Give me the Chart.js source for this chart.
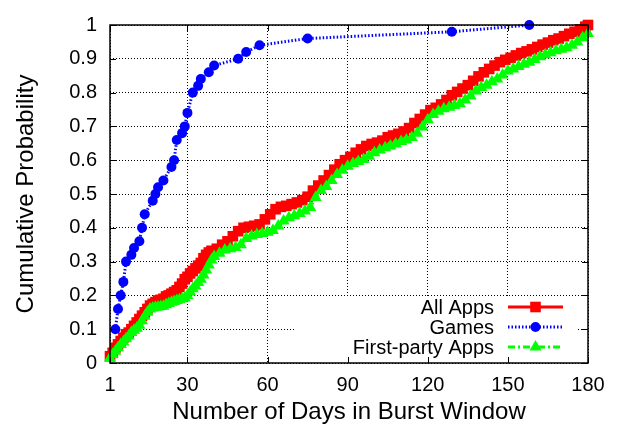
<!DOCTYPE html>
<html lang="en">
<head>
<meta charset="UTF-8" />
<title>Burst Window CDF</title>
<script src="https://cdn.jsdelivr.net/npm/chart.js"></script>
<style>
  html, body { margin: 0; padding: 0; background: #fff; }
  #wrap { width: 621px; height: 428px; }
</style>
</head>
<body>
<div id="wrap"><canvas id="cdf" width="621" height="428"></canvas></div>
<script>
// x ticks and y ticks
const xTicks = [1, 30, 60, 90, 120, 150, 180];
const yTicks = [0, 0.1, 0.2, 0.3, 0.4, 0.5, 0.6, 0.7, 0.8, 0.9, 1];

// All Apps
const allDays = [1,2,3,4,5,6,7,8,9,10,11,12,13,14,15,16,17,18,19,20,21,22,23,24,25,26,27,28,29,30,31,32,33,34,35,36,37,38,39,
  41,43,45,47,49,51,53,55,57,59,61,63,65,67,69,71,73,75,77,79,81,83,85,87,89,91,93,95,97,99,
  101,103,105,107,109,111,113,115,117,119,121,123,125,127,129,131,133,135,137,139,
  141,143,145,147,149,151,153,155,157,159,161,163,165,167,169,171,173,175,177,179,180];
const allVals = [0.02,0.03,0.045,0.055,0.065,0.075,0.085,0.09,0.1,0.11,0.12,0.13,0.14,0.15,0.16,0.17,0.175,0.18,0.185,0.187,
  0.19,0.197,0.2,0.205,0.21,0.215,0.225,0.235,0.248,0.255,0.265,0.272,0.28,0.288,0.296,0.31,0.32,0.327,0.332,
  0.338,0.35,0.36,0.375,0.39,0.4,0.403,0.406,0.41,0.425,
  0.44,0.455,0.462,0.465,0.47,0.475,0.482,0.492,0.51,0.525,
  0.54,0.556,0.572,0.588,0.6,0.61,0.622,0.632,0.642,0.648,
  0.652,0.658,0.668,0.673,0.678,0.685,0.695,0.71,0.722,0.735,
  0.748,0.755,0.765,0.778,0.792,0.802,0.812,0.822,0.835,0.848,
  0.86,0.87,0.88,0.89,0.897,0.903,0.91,0.917,0.922,0.928,
  0.935,0.942,0.948,0.955,0.96,0.967,0.974,0.98,0.987,0.995,1];

// Games
const gameDays = [3,4,5,6,7,9,10,12,13,14,17,18,19,21,24,25,26,28,29,30,32,34,35,38,40,49,52,57,75,129,158];
const gameVals = [0.1,0.16,0.2,0.24,0.3,0.32,0.34,0.36,0.4,0.44,0.48,0.5,0.52,0.54,0.58,0.6,0.66,0.68,0.7,0.74,
  0.8,0.82,0.84,0.86,0.88,0.9,0.92,0.94,0.96,0.98,1];

// First-party Apps
const firstDays = [1,2,3,4,5,6,7,8,9,10,11,12,13,14,15,16,17,18,19,20,21,22,23,24,25,26,27,28,29,30,31,32,33,34,35,36,37,38,39,40,
  42,44,46,48,50,52,54,56,58,60,62,64,66,68,70,72,74,76,78,80,82,84,86,88,90,92,94,96,98,100,
  102,104,106,108,110,112,114,116,118,120,122,124,126,128,130,132,134,136,138,140,
  142,144,146,148,150,152,154,156,158,160,162,164,166,168,170,172,174,176,178,180];
const firstVals = [0.015,0.025,0.035,0.045,0.055,0.063,0.072,0.08,0.09,0.097,0.103,0.112,0.125,0.138,0.15,0.16,0.163,0.165,0.166,0.167,
  0.168,0.172,0.176,0.18,0.182,0.185,0.187,0.19,0.192,0.2,0.21,0.22,0.228,0.238,0.248,0.26,0.275,0.29,0.305,0.315,
  0.325,0.334,0.338,0.342,0.35,0.368,0.376,0.38,0.383,0.387,
  0.392,0.405,0.42,0.43,0.436,0.442,0.45,0.46,0.49,0.51,
  0.522,0.54,0.558,0.57,0.582,0.59,0.596,0.602,0.612,0.622,
  0.63,0.637,0.642,0.648,0.655,0.66,0.667,0.68,0.698,0.72,
  0.735,0.745,0.752,0.757,0.762,0.767,0.778,0.79,0.805,0.815,
  0.822,0.832,0.84,0.852,0.864,0.87,0.877,0.884,0.89,0.898,
  0.906,0.912,0.918,0.924,0.928,0.933,0.94,0.95,0.962,0.975];

const FONT = '"Liberation Sans", Arial, Helvetica, sans-serif';

function pts(xs, ys) {
  return xs.map((d, i) => ({ x: d, y: ys[i] }));
}

// gnuplot-like frame, inward ticks and the key inside the plot
const gnuplotBits = {
  id: 'gnuplotBits',
  afterDraw(chart) {
    const ctx = chart.ctx;
    const a = chart.chartArea;
    const xs = chart.scales.x, ys = chart.scales.y;
    ctx.save();

    // key box
    ctx.fillStyle = '#fff';
    ctx.fillRect(a.left + 186, a.bottom - 66, 281, 65);

    const rows = [0, 1, 2];
    rows.forEach(i => {
      const ds = chart.data.datasets[i];
      const cy = a.bottom - 56 + i * 20;
      ctx.font = '20px ' + FONT;
      ctx.fillStyle = '#000';
      ctx.textAlign = 'right';
      ctx.textBaseline = 'middle';
      ctx.fillText(ds.label, a.left + 384, cy + 1);

      ctx.strokeStyle = ds.borderColor;
      ctx.lineWidth = ds.borderWidth;
      ctx.setLineDash(ds.borderDash || []);
      ctx.beginPath();
      ctx.moveTo(a.left + 398, cy);
      ctx.lineTo(a.left + 453, cy);
      ctx.stroke();
      ctx.setLineDash([]);
      ctx.fillStyle = ds.borderColor;
      Chart.helpers.drawPoint(ctx, { pointStyle: ds.pointStyle, radius: ds.pointRadius, rotation: 0, borderWidth: 0 }, a.left + 425.5, cy);
    });

    // frame
    ctx.strokeStyle = '#000';
    ctx.lineWidth = 1.5;
    ctx.setLineDash([]);
    ctx.strokeRect(a.left, a.top, a.right - a.left, a.bottom - a.top);

    // inward ticks on all sides
    ctx.lineWidth = 1;
    ctx.beginPath();
    xTicks.forEach(v => {
      const px = Math.round(xs.getPixelForValue(v)) + 0.5;
      ctx.moveTo(px, a.bottom); ctx.lineTo(px, a.bottom - 6);
      ctx.moveTo(px, a.top); ctx.lineTo(px, a.top + 6);
    });
    yTicks.forEach(v => {
      const py = Math.round(ys.getPixelForValue(v)) + 0.5;
      ctx.moveTo(a.left, py); ctx.lineTo(a.left + 6, py);
      ctx.moveTo(a.right, py); ctx.lineTo(a.right - 6, py);
    });
    ctx.stroke();
    ctx.restore();
  }
};

new Chart(document.getElementById('cdf'), {
  type: 'line',
  data: {
    datasets: [
      {
        label: 'All Apps',
        data: pts(allDays, allVals),
        borderColor: '#ff0000',
        backgroundColor: '#ff0000',
        borderWidth: 3,
        pointStyle: 'rect',
        pointRadius: 7.5,
        pointBorderWidth: 0,
        order: 3
      },
      {
        label: 'Games',
        data: pts(gameDays, gameVals),
        borderColor: '#0000ff',
        backgroundColor: '#0000ff',
        borderWidth: 3,
        borderDash: [1.5, 2],
        pointStyle: 'circle',
        pointRadius: 5,
        pointBorderWidth: 0,
        order: 2
      },
      {
        label: 'First-party Apps',
        data: pts(firstDays, firstVals),
        borderColor: '#00ff00',
        backgroundColor: '#00ff00',
        borderWidth: 3,
        borderDash: [7, 3, 2, 3],
        pointStyle: 'triangle',
        pointRadius: 7,
        pointBorderWidth: 0,
        order: 1
      }
    ]
  },
  options: {
    responsive: false,
    animation: false,
    devicePixelRatio: 1,
    events: [],
    clip: false,
    layout: { padding: { left: 0, top: 15, right: 33, bottom: 0 } },
    elements: { line: { tension: 0 } },
    plugins: {
      legend: { display: false },
      tooltip: { enabled: false }
    },
    scales: {
      x: {
        type: 'linear',
        min: 1,
        max: 180,
        afterBuildTicks: s => { s.ticks = xTicks.map(v => ({ value: v })); },
        afterFit: s => { s.height = 65; },
        ticks: { color: '#000', font: { family: FONT, size: 20 }, padding: 10, maxRotation: 0 },
        grid: { color: '#000', lineWidth: 1, drawTicks: false },
        border: { display: false, dash: [1, 2] },
        title: {
          display: true,
          text: 'Number of Days in Burst Window',
          color: '#000',
          font: { family: FONT, size: 24 },
          padding: { top: 0, bottom: 1 }
        }
      },
      y: {
        min: 0,
        max: 1,
        afterBuildTicks: s => { s.ticks = yTicks.map(v => ({ value: v })); },
        afterFit: s => { s.width = 110; },
        ticks: {
          color: '#000',
          font: { family: FONT, size: 20 },
          padding: 13,
          callback: v => String(Math.round(v * 10) / 10)
        },
        grid: { color: '#000', lineWidth: 1, drawTicks: false },
        border: { display: false, dash: [1, 2] },
        title: {
          display: true,
          text: 'Cumulative Probability',
          color: '#000',
          font: { family: FONT, size: 24 },
          padding: { top: 12, bottom: 0 }
        }
      }
    }
  },
  plugins: [gnuplotBits]
});
</script>
</body>
</html>
